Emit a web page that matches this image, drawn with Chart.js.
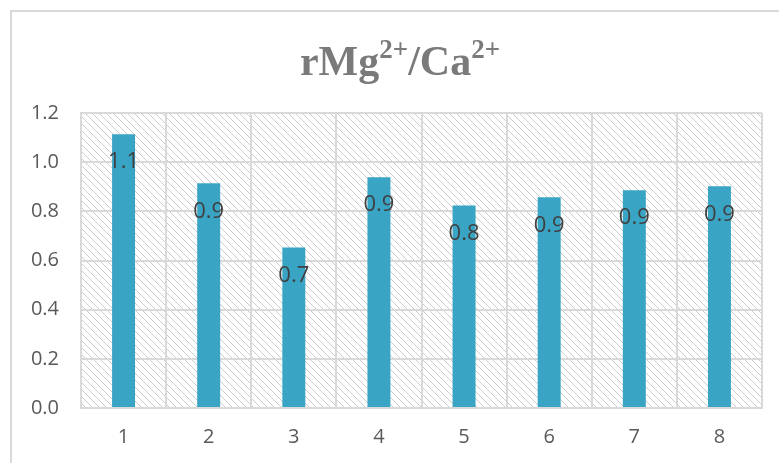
<!DOCTYPE html>
<html>
<head>
<meta charset="UTF-8">
<title>rMg/Ca</title>
<script src="https://cdn.jsdelivr.net/npm/chart.js"></script>
<style>
    body { margin: 0; width: 779px; height: 463px; overflow: hidden; background: #fff; position: relative; }
    .frame { position: absolute; left: 10px; top: 10px; width: 800px; height: 500px;
             border-left: 2px solid #d9d9d9; border-top: 2px solid #d9d9d9; }
    #wrap { position: absolute; left: 0; top: 0; width: 779px; height: 463px; }
</style>
</head>
<body>
<div class="frame"></div>
<div id="wrap"><canvas id="c"></canvas></div>
<script>
// data
const categories = ['1', '2', '3', '4', '5', '6', '7', '8'];
const ratioValues = [1.114, 0.914, 0.653, 0.939, 0.824, 0.857, 0.886, 0.902];
const yTicks = [0, 0.2, 0.4, 0.6, 0.8, 1.0, 1.2];

// hatched background of the plot area
function makeHatch() {
    const s = 7;
    const p = document.createElement('canvas');
    p.width = s; p.height = s;
    const g = p.getContext('2d');
    g.fillStyle = '#fff';
    g.fillRect(0, 0, s, s);
    g.strokeStyle = '#cccccc';
    g.lineWidth = 1;
    g.beginPath();
    g.moveTo(0, 0); g.lineTo(s, s);
    g.moveTo(-1, s - 1); g.lineTo(1, s + 1);
    g.moveTo(s - 1, -1); g.lineTo(s + 1, 1);
    g.stroke();
    return g.createPattern(p, 'repeat');
}

const hatchBg = {
    id: 'hatchBg',
    beforeDraw(chart) {
        const a = chart.chartArea, ctx = chart.ctx;
        ctx.save();
        ctx.fillStyle = makeHatch();
        ctx.fillRect(a.left, a.top, a.right - a.left, a.bottom - a.top);
        ctx.restore();
    }
};

// title with superscripts
const titlePlugin = {
    id: 'supTitle',
    afterDraw(chart) {
        const ctx = chart.ctx;
        const parts = [['rMg', false], ['2+', true], ['/Ca', false], ['2+', true]];
        const big = 'bold 42px "Liberation Serif"', small = 'bold 27px "Liberation Serif"';
        ctx.save();
        ctx.fillStyle = '#7a7a7a';
        ctx.textBaseline = 'alphabetic';
        let w = 0;
        parts.forEach(([t, sup]) => { ctx.font = sup ? small : big; w += ctx.measureText(t).width; });
        let x = 400 - w / 2;
        const base = 75;
        parts.forEach(([t, sup]) => {
            ctx.font = sup ? small : big;
            ctx.fillText(t, x, sup ? base - 17 : base);
            x += ctx.measureText(t).width;
        });
        ctx.restore();
    }
};

// value labels inside bar tops
const valueLabels = {
    id: 'valueLabels',
    afterDatasetsDraw(chart) {
        const ctx = chart.ctx;
        const meta = chart.getDatasetMeta(0);
        ctx.save();
        ctx.font = '22px "Open Sans"';
        ctx.fillStyle = '#404040';
        ctx.textAlign = 'center';
        ctx.textBaseline = 'middle';
        meta.data.forEach((bar, i) => {
            ctx.fillText(ratioValues[i].toFixed(1), bar.x, bar.y + 28);
        });
        ctx.restore();
    }
};

new Chart(document.getElementById('c'), {
    type: 'bar',
    data: {
        labels: categories,
        datasets: [{
            data: ratioValues,
            backgroundColor: '#3aa4c4',
            barPercentage: 0.27,
            categoryPercentage: 1.0
        }]
    },
    options: {
        responsive: true,
        maintainAspectRatio: false,
        animation: false,
        layout: { padding: { left: 0, right: 17, top: 113, bottom: 0 } },
        plugins: { legend: { display: false }, tooltip: { enabled: false }, title: { display: false } },
        scales: {
            x: {
                grid: { color: '#d9d9d9', lineWidth: 2, drawTicks: false },
                border: { display: true, color: '#d9d9d9', width: 2 },
                ticks: { color: '#595959', font: { family: 'Open Sans', size: 20 }, padding: 17 },
                afterFit(s) { s.height = 55; }
            },
            y: {
                min: 0, max: 1.2,
                afterBuildTicks(s) { s.ticks = yTicks.map(v => ({ value: v })); },
                grid: { color: '#d9d9d9', lineWidth: 2, drawTicks: false },
                border: { display: true, color: '#d9d9d9', width: 2 },
                ticks: { color: '#595959', font: { family: 'Open Sans', size: 20 }, padding: 22,
                         callback: v => Number(v).toFixed(1) },
                afterFit(s) { s.width = 81; }
            }
        }
    },
    plugins: [hatchBg, valueLabels, titlePlugin]
});
</script>
</body>
</html>
